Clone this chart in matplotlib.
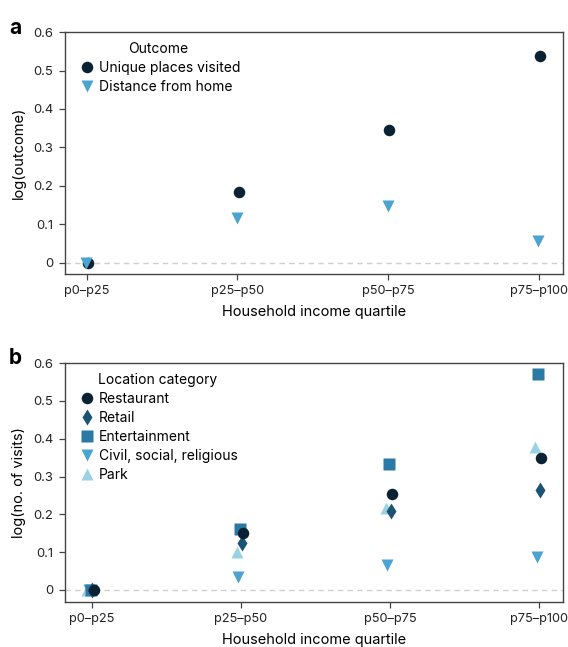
import matplotlib
matplotlib.use("Agg")
import matplotlib.pyplot as plt
import numpy as np

plt.rcParams['font.family'] = ['Inter', 'DejaVu Sans']

quartiles = ["p0\u2013p25", "p25\u2013p50", "p50\u2013p75", "p75\u2013p100"]

# panel a
unique_places = [0.0, 0.183, 0.346, 0.538]
distance_home = [0.0, 0.118, 0.148, 0.058]

# panel b
restaurant = [0.0, 0.150, 0.254, 0.349]
retail = [0.0, 0.123, 0.210, 0.264]
entertainment = [0.0, 0.162, 0.333, 0.571]
civil = [0.0, 0.034, 0.066, 0.087]
park = [0.0, 0.100, 0.217, 0.378]

yticks = [0, 0.1, 0.2, 0.3, 0.4, 0.5, 0.6]
ytick_labels = ["0", "0.1", "0.2", "0.3", "0.4", "0.5", "0.6"]

c_rest = "#0a2233"
c_retail = "#1b5374"
c_ent = "#2d79a5"
c_civil = "#4aa3d0"
c_park = "#9ad2e5"

fig = plt.figure(figsize=(5.68, 6.47), dpi=100)
ax1 = fig.add_axes([0.1136, 0.577, 0.877, 0.3735])
ax2 = fig.add_axes([0.1136, 0.070, 0.877, 0.3689])

x = np.arange(len(quartiles))


def style(ax, ylabel, xlim, ylim):
    ax.axhline(0, color="#cfcfcf", lw=1, ls=(0, (4, 3)), zorder=0)
    ax.set_xlim(*xlim)
    ax.set_ylim(*ylim)
    ax.set_xticks(x)
    ax.set_xticklabels(quartiles, fontsize=9.2)
    ax.set_yticks(yticks)
    ax.set_yticklabels(ytick_labels, fontsize=9.4)
    ax.set_xlabel("Household income quartile", fontsize=10.5, labelpad=6)
    ax.set_ylabel(ylabel, fontsize=10.5, labelpad=5)
    for s in ax.spines.values():
        s.set_color("#444444")
        s.set_linewidth(1.0)
    ax.tick_params(length=4, width=0.9, pad=4, color="#444444", labelcolor="#222222")


leg_kw = dict(loc="upper left", bbox_to_anchor=(0.005, 1.0), frameon=False, fontsize=10,
              title_fontsize=10, handletextpad=0.1, handlelength=1.5,
              labelspacing=0.36, borderaxespad=0.3)

# panel a
ax1.plot(x + 0.008, unique_places, "o", color=c_rest, ms=8.3, mec="none", label="Unique places visited", zorder=3)
ax1.plot(x - 0.002, distance_home, "v", color=c_civil, ms=8.0, mec="none", label="Distance from home", zorder=3)
style(ax1, "log(outcome)", (-0.147, 3.159), (-0.028, 0.6))
ax1.legend(title="Outcome", **leg_kw)

# panel b
ax2.plot(x - 0.028, park, "^", color=c_park, ms=8.0, mec="none", label="Park", zorder=3)
ax2.plot(x - 0.016, civil, "v", color=c_civil, ms=8.0, mec="none", label="Civil, social, religious", zorder=3)
ax2.plot(x - 0.005, entertainment, "s", color=c_ent, ms=8.0, mec="none", label="Entertainment", zorder=3)
ax2.plot(x + 0.005, retail, "d", color=c_retail, ms=8.5, mec="none", label="Retail", zorder=3)
ax2.plot(x + 0.016, restaurant, "o", color=c_rest, ms=8.3, mec="none", label="Restaurant", zorder=4)
style(ax2, "log(no. of visits)", (-0.182, 3.159), (-0.031, 0.6))
handles, labels = ax2.get_legend_handles_labels()
order = [4, 3, 2, 1, 0]
ax2.legend([handles[i] for i in order], [labels[i] for i in order],
           title="Location category", **leg_kw)

fig.text(0.016, 0.957, "a", fontsize=15, fontweight="bold", va="center", ha="left")
fig.text(0.016, 0.447, "b", fontsize=15, fontweight="bold", va="center", ha="left")

fig.savefig("out.png", dpi=100)
